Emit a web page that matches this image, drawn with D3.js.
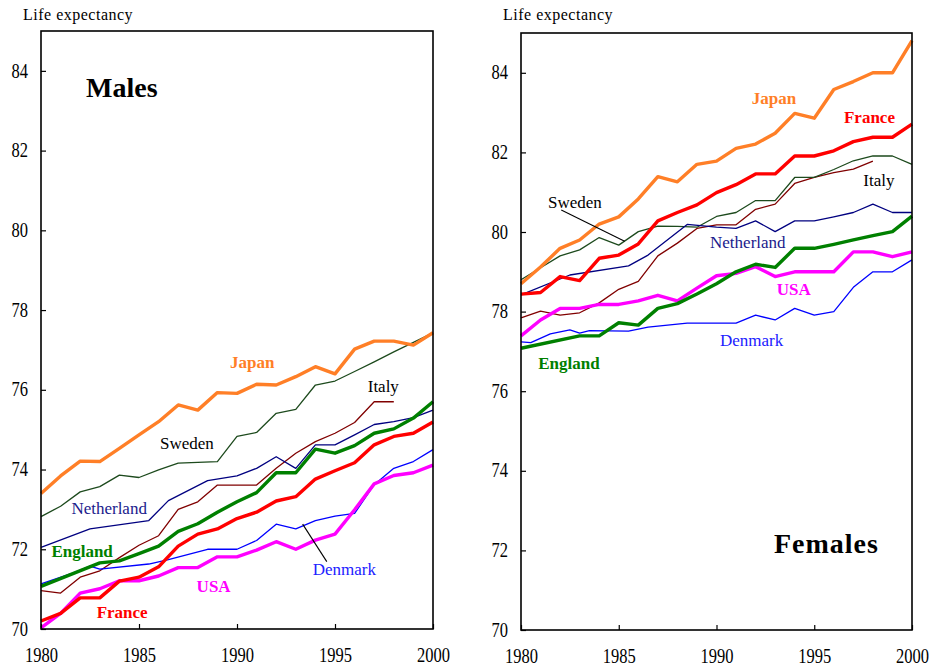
<!DOCTYPE html>
<html>
<head>
<meta charset="utf-8">
<script src="https://cdn.jsdelivr.net/npm/d3@7/dist/d3.min.js"></script>
<style>
body { margin: 0; background: #fff; }
svg, svg text { font-family: "Liberation Serif", "Times New Roman", serif; }
svg { display: block; }
</style>
</head>
<body>
<svg width="933" height="667"></svg>
<script>
// years on the x axis
var years = [1980, 1981, 1982, 1983, 1984, 1985, 1986, 1987, 1988, 1989, 1990,
  1991, 1992, 1993, 1994, 1995, 1996, 1997, 1998, 1999, 2000];
var yearsItaly = [1980, 1981, 1982, 1983, 1984, 1985, 1986, 1987, 1988, 1989, 1990,
  1991, 1992, 1993, 1994, 1995, 1996, 1997, 1998];
var yearsEngland = [1980, 1983, 1984, 1985, 1986, 1987, 1988, 1989, 1990,
  1991, 1992, 1993, 1994, 1995, 1996, 1997, 1998, 1999, 2000];
var yearsNetherland = [1980, 1982.5, 1985.5, 1986.5, 1988.5, 1990,
  1991, 1992, 1993, 1994, 1995, 1996, 1997, 1998, 1999, 2000];
var yearsDenmarkM = [1980, 1981.5, 1982.5, 1983, 1985.5, 1986.5, 1988.5, 1990,
  1991, 1992, 1993, 1994, 1995, 1996, 1997, 1998, 1999, 2000];
var yearsDenmarkF = [1980, 1980.5, 1981.5, 1982.5, 1983, 1983.5, 1985.5, 1986.5, 1988.5, 1990,
  1991, 1992, 1993, 1994, 1995, 1996, 1997, 1998, 1999, 2000];

var xTicks = [1980, 1985, 1990, 1995, 2000];
var yTicks = [70, 72, 74, 76, 78, 80, 82, 84];

// males
var japanM = [73.40, 73.84, 74.21, 74.20, 74.53, 74.87, 75.20, 75.62, 75.49, 75.93, 75.91,
  76.14, 76.12, 76.33, 76.58, 76.40, 77.02, 77.22, 77.22, 77.12, 77.43];
var swedenM = [72.82, 73.08, 73.44, 73.57, 73.86, 73.80, 73.99, 74.16, 74.18, 74.20, 74.83,
  74.93, 75.41, 75.51, 76.12, 76.22, 76.46, 76.70, 76.95, 77.19, 77.43];
var italyM = [70.96, 70.90, 71.30, 71.46, 71.79, 72.10, 72.34, 73.00, 73.19, 73.61, 73.61,
  73.61, 74.03, 74.41, 74.70, 74.91, 75.18, 75.70, 75.70];
var englandM = [71.07, 71.66, 71.71, 71.89, 72.08, 72.45, 72.64, 72.93, 73.19,
  73.42, 73.92, 73.92, 74.51, 74.41, 74.60, 74.91, 75.02, 75.29, 75.70];
var franceM = [70.20, 70.39, 70.78, 70.78, 71.20, 71.30, 71.56, 72.08, 72.38, 72.51, 72.77,
  72.93, 73.21, 73.32, 73.76, 73.97, 74.17, 74.62, 74.83, 74.91, 75.19];
var usaM = [70.03, 70.39, 70.90, 71.01, 71.21, 71.21, 71.33, 71.54, 71.54, 71.81, 71.81,
  71.98, 72.19, 72.00, 72.23, 72.38, 72.99, 73.64, 73.85, 73.92, 74.11];
var netherlandM = [72.05, 72.51, 72.72, 73.22, 73.72, 73.84,
  74.03, 74.32, 74.03, 74.62, 74.62, 74.87, 75.13, 75.20, 75.30, 75.49];
var denmarkM = [71.13, 71.38, 71.58, 71.50, 71.63, 71.74, 72.00, 72.00,
  72.22, 72.63, 72.51, 72.72, 72.83, 72.90, 73.62, 74.03, 74.20, 74.50];

// females
var japanF = [78.70, 79.12, 79.59, 79.80, 80.20, 80.38, 80.83, 81.39, 81.26, 81.70, 81.78,
  82.10, 82.21, 82.48, 82.98, 82.86, 83.58, 83.78, 84.00, 84.00, 84.81];
var swedenF = [78.80, 79.10, 79.40, 79.55, 79.86, 79.67, 80.01, 80.15, 80.14, 80.12, 80.39,
  80.49, 80.79, 80.79, 81.37, 81.37, 81.57, 81.79, 81.91, 81.91, 81.70];
var italyF = [77.84, 78.01, 77.91, 77.97, 78.22, 78.56, 78.76, 79.40, 79.72, 80.09, 80.18,
  80.18, 80.57, 80.70, 81.22, 81.37, 81.49, 81.58, 81.78];
var englandF = [77.08, 77.39, 77.39, 77.72, 77.66, 78.08, 78.20, 78.44, 78.70,
  79.00, 79.19, 79.11, 79.59, 79.59, 79.69, 79.80, 79.91, 80.01, 80.40];
var franceF = [78.44, 78.48, 78.88, 78.78, 79.34, 79.42, 79.70, 80.28, 80.49, 80.68, 80.99,
  81.19, 81.46, 81.46, 81.91, 81.91, 82.04, 82.27, 82.38, 82.38, 82.71];
var usaF = [77.39, 77.79, 78.08, 78.08, 78.18, 78.18, 78.27, 78.41, 78.27, 78.59, 78.90,
  78.96, 79.13, 78.88, 79.00, 79.00, 79.00, 79.50, 79.50, 79.38, 79.50];
var netherlandF = [78.42, 78.92, 79.15, 79.42, 80.19, 80.12,
  80.09, 80.28, 80.01, 80.28, 80.28, 80.38, 80.49, 80.70, 80.49, 80.49];
var denmarkF = [77.24, 77.22, 77.44, 77.54, 77.46, 77.52, 77.51, 77.61, 77.71, 77.71,
  77.71, 77.91, 77.79, 78.08, 77.91, 78.00, 78.61, 79.00, 79.00, 79.30];

var colors = {
  Japan: '#ff7f27', France: '#ff0000', England: '#008000', USA: '#ff00ff',
  Sweden: '#1d4a1d', Italy: '#800000', Netherland: '#000080', Denmark: '#0000ff'
};

var svg = d3.select('svg');

function series(name, xs, ys, thick) {
  return { name: name, points: xs.map(function(x, i) { return [x, ys[i]]; }), thick: thick };
}

function panel(box, title, lines, labels, pointer) {
  var x = d3.scaleLinear().domain([1980, 2000]).range([box.x0, box.x1]);
  var y = d3.scaleLinear().domain([70, 85]).range([box.y1, box.y0]);
  var g = svg.append('g');

  var line = d3.line().x(function(d) { return x(d[0]); }).y(function(d) { return y(d[1]); });
  g.selectAll('path.series').data(lines).enter().append('path')
    .attr('class', 'series')
    .attr('d', function(d) { return line(d.points); })
    .attr('fill', 'none')
    .attr('stroke', function(d) { return colors[d.name]; })
    .attr('stroke-width', function(d) { return d.thick ? 3.4 : 1.3; })
    .attr('stroke-linejoin', 'round');

  var ax = g.append('g').attr('transform', 'translate(0,' + box.y1 + ')')
    .call(d3.axisBottom(x).tickValues(xTicks).tickSize(-5).tickFormat(d3.format('d')))
    .attr('font-family', null).attr('font-size', null);
  ax.select('.domain').remove();
  ax.selectAll('text').attr('dy', null).attr('y', 26.5).attr('transform', 'scale(1,1.25)')
    .style('font-size', '16.5px').attr('fill', '#000');

  var ay = g.append('g').attr('transform', 'translate(' + box.x0 + ',0)')
    .call(d3.axisLeft(y).tickValues(yTicks).tickSize(-5).tickPadding(13))
    .attr('font-family', null).attr('font-size', null);
  ay.select('.domain').remove();
  ay.selectAll('text').attr('transform', 'scale(1,1.25)').attr('dy', '0.3em')
    .style('font-size', '16.5px').attr('fill', '#000');
  g.selectAll('.tick line').attr('stroke', '#000').attr('stroke-width', 1.2);

  g.append('rect')
    .attr('x', box.x0).attr('y', box.y0)
    .attr('width', box.x1 - box.x0).attr('height', box.y1 - box.y0)
    .attr('fill', 'none').attr('stroke', '#000').attr('stroke-width', 1.6);

  g.append('text').attr('x', box.x0 - 18).attr('y', 19.5)
    .style('font-size', '16px').style('letter-spacing', '0.5px')
    .text('Life expectancy');

  g.append('line')
    .attr('x1', x(pointer[0])).attr('y1', y(pointer[1]))
    .attr('x2', x(pointer[2])).attr('y2', y(pointer[3]))
    .attr('stroke', '#000').attr('stroke-width', 1.1);

  g.selectAll('text.label').data(labels).enter().append('text')
    .attr('class', 'label')
    .attr('x', function(d) { return x(d.year); })
    .attr('y', function(d) { return y(d.value); })
    .attr('fill', function(d) { return d.color; })
    .style('font-size', '17px')
    .style('font-weight', function(d) { return d.bold ? 'bold' : 'normal'; })
    .text(function(d) { return d.text; });

  g.append('text').attr('x', x(title.year)).attr('y', y(title.value))
    .style('font-size', '28px').style('font-weight', 'bold')
    .style('letter-spacing', title.spacing)
    .text(title.text);
}

var thinM = [
  series('Italy', yearsItaly, italyM), series('Sweden', years, swedenM),
  series('Netherland', yearsNetherland, netherlandM), series('Denmark', yearsDenmarkM, denmarkM)
];
var thickM = [
  series('Japan', years, japanM, true), series('USA', years, usaM, true),
  series('England', yearsEngland, englandM, true), series('France', years, franceM, true)
];
var thinF = [
  series('Italy', yearsItaly, italyF), series('Sweden', years, swedenF),
  series('Netherland', yearsNetherland, netherlandF), series('Denmark', yearsDenmarkF, denmarkF)
];
var thickF = [
  series('Japan', years, japanF, true), series('USA', years, usaF, true),
  series('England', yearsEngland, englandF, true), series('France', years, franceF, true)
];

panel({ x0: 41, x1: 433, y0: 31, y1: 629 },
  { text: 'Males', year: 1982.3, value: 83.35, spacing: '0px' },
  thinM.concat(thickM),
  [
    { text: 'Japan', year: 1989.64, value: 76.55, color: colors.Japan, bold: true },
    { text: 'Sweden', year: 1986.07, value: 74.51, color: '#000' },
    { text: 'Italy', year: 1996.67, value: 75.95, color: '#000' },
    { text: 'Netherland', year: 1981.55, value: 72.88, color: '#1a1a8c' },
    { text: 'England', year: 1980.53, value: 71.80, color: colors.England, bold: true },
    { text: 'USA', year: 1987.94, value: 70.94, color: colors.USA, bold: true },
    { text: 'France', year: 1982.84, value: 70.28, color: colors.France, bold: true },
    { text: 'Denmark', year: 1993.86, value: 71.35, color: '#2020ff' }
  ],
  [1993.35, 72.63, 1994.58, 71.69]);

panel({ x0: 521, x1: 912, y0: 33, y1: 630 },
  { text: 'Females', year: 1992.94, value: 71.93, spacing: '1px' },
  thinF.concat(thickF),
  [
    { text: 'Japan', year: 1991.80, value: 83.22, color: colors.Japan, bold: true },
    { text: 'France', year: 1996.52, value: 82.75, color: colors.France, bold: true },
    { text: 'Italy', year: 1997.51, value: 81.16, color: '#000' },
    { text: 'Sweden', year: 1981.38, value: 80.60, color: '#000' },
    { text: 'Netherland', year: 1989.67, value: 79.59, color: '#1a1a8c' },
    { text: 'USA', year: 1993.08, value: 78.42, color: colors.USA, bold: true },
    { text: 'Denmark', year: 1990.18, value: 77.14, color: '#2020ff' },
    { text: 'England', year: 1980.88, value: 76.55, color: colors.England, bold: true }
  ],
  [1982.06, 80.55, 1985.30, 79.77]);
</script>
</body>
</html>
